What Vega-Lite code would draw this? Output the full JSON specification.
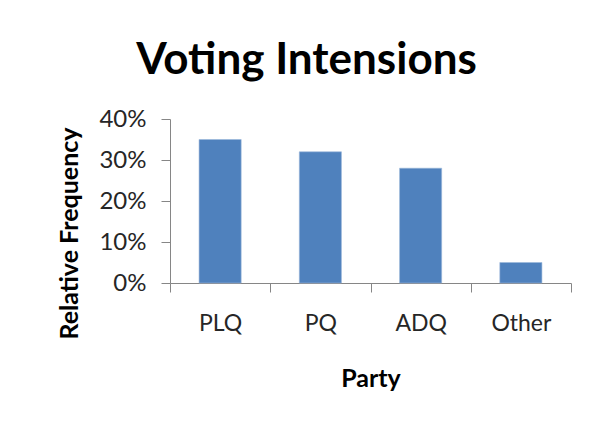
{
  "$schema": "https://vega.github.io/schema/vega-lite/v6.json",
  "autosize": {"type": "none"},
  "padding": {"left": 170, "top": 119, "right": 32, "bottom": 139},
  "width": 401,
  "height": 164,
  "background": "white",
  "title": {
    "text": "Voting Intensions",
    "font": "Lato",
    "fontSize": 44,
    "fontWeight": "bold",
    "color": "#000000",
    "anchor": "middle",
    "dx": -64,
    "offset": 24
  },
  "data": {
    "values": [
      {"Party": "PLQ", "Share": 0.35},
      {"Party": "PQ", "Share": 0.32},
      {"Party": "ADQ", "Share": 0.28},
      {"Party": "Other", "Share": 0.05}
    ]
  },
  "mark": {"type": "bar", "color": "#4F81BD", "stroke": "#9BB7DA", "strokeWidth": 0.6, "width": {"band": 0.42}},
  "encoding": {
    "x": {
      "field": "Party",
      "type": "nominal",
      "sort": null,
      "title": "Party",
      "scale": {"paddingInner": 0, "paddingOuter": 0},
      "axis": {
        "labelAngle": 0,
        "tickBand": "extent",
        "tickSize": 9,
        "labelPadding": 20,
        "titlePadding": 31
      }
    },
    "y": {
      "field": "Share",
      "type": "quantitative",
      "title": "Relative Frequency",
      "scale": {"domain": [0, 0.4]},
      "axis": {
        "values": [0, 0.1, 0.2, 0.3, 0.4],
        "format": ".0%",
        "tickSize": 9,
        "labelPadding": 15,
        "labelFontSize": 24,
        "titlePadding": 16,
        "titleY": 114
      }
    }
  },
  "config": {
    "view": {"stroke": null},
    "axis": {
      "grid": false,
      "domainColor": "#868686",
      "tickColor": "#868686",
      "labelFont": "Lato",
      "labelFontSize": 23,
      "labelColor": "#262626",
      "titleFont": "Lato",
      "titleFontSize": 25,
      "titleFontWeight": "bold",
      "titleColor": "#000000"
    }
  }
}
